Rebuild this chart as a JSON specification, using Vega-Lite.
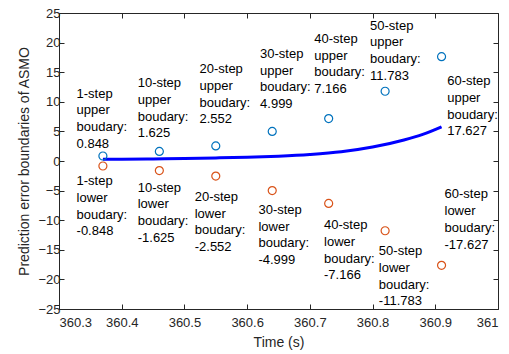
{
  "$schema": "https://vega.github.io/schema/vega-lite/v6.json",
  "width": 439,
  "height": 296,
  "autosize": {"type": "none"},
  "padding": {"left": 59, "top": 13, "right": 11, "bottom": 45},
  "background": "white",
  "config": {
    "view": {"stroke": null},
    "font": "Liberation Sans",
    "axis": {
      "grid": false,
      "domainColor": "#262626",
      "domainWidth": 1,
      "tickColor": "#262626",
      "tickWidth": 1,
      "tickSize": -5,
      "labelColor": "#262626",
      "labelFont": "Liberation Sans",
      "labelFontSize": 13,
      "titleFont": "Liberation Sans",
      "titleFontSize": 14,
      "titleFontWeight": "normal",
      "titleColor": "#262626"
    }
  },
  "resolve": {"axis": {"x": "independent", "y": "independent"}},
  "layer": [
    {
      "data": {"values": [
        {"t": 360.37, "v": 0.28},
        {"t": 360.40, "v": 0.30},
        {"t": 360.45, "v": 0.35},
        {"t": 360.50, "v": 0.42},
        {"t": 360.55, "v": 0.52},
        {"t": 360.60, "v": 0.64},
        {"t": 360.65, "v": 0.82},
        {"t": 360.70, "v": 1.10},
        {"t": 360.75, "v": 1.55},
        {"t": 360.80, "v": 2.35},
        {"t": 360.85, "v": 3.55},
        {"t": 360.88, "v": 4.50},
        {"t": 360.91, "v": 5.78}
      ]},
      "mark": {"type": "line", "color": "#0000FF", "strokeWidth": 3, "interpolate": "monotone"},
      "encoding": {
        "x": {"field": "t", "type": "quantitative",
              "scale": {"domain": [360.3, 361], "nice": false, "zero": false},
              "axis": {"orient": "bottom", "title": "Time (s)", "values": [360.3, 360.4, 360.5, 360.6, 360.7, 360.8, 360.9, 361], "labelPadding": 12, "titlePadding": 6, "labelExpr": "datum.value == 361 ? '361' : format(datum.value, '.1f')"}},
        "y": {"field": "v", "type": "quantitative",
              "scale": {"domain": [-25, 25], "nice": false, "zero": false},
              "axis": {"orient": "left", "title": "Prediction error boundaries of ASMO", "values": [-25, -20, -15, -10, -5, 0, 5, 10, 15, 20, 25], "labelPadding": 4, "titlePadding": 6}}
      }
    },
    {
      "data": {"values": [
        {"t": 360.37, "v": 0.848, "kind": "upper"},
        {"t": 360.46, "v": 1.625, "kind": "upper"},
        {"t": 360.55, "v": 2.552, "kind": "upper"},
        {"t": 360.64, "v": 4.999, "kind": "upper"},
        {"t": 360.73, "v": 7.166, "kind": "upper"},
        {"t": 360.82, "v": 11.783, "kind": "upper"},
        {"t": 360.91, "v": 17.627, "kind": "upper"},
        {"t": 360.37, "v": -0.848, "kind": "lower"},
        {"t": 360.46, "v": -1.625, "kind": "lower"},
        {"t": 360.55, "v": -2.552, "kind": "lower"},
        {"t": 360.64, "v": -4.999, "kind": "lower"},
        {"t": 360.73, "v": -7.166, "kind": "lower"},
        {"t": 360.82, "v": -11.783, "kind": "lower"},
        {"t": 360.91, "v": -17.627, "kind": "lower"}
      ]},
      "mark": {"type": "point", "shape": "circle", "filled": false, "size": 64, "strokeWidth": 1.2, "opacity": 1},
      "encoding": {
        "x": {"field": "t", "type": "quantitative",
              "scale": {"domain": [360.3, 361], "nice": false, "zero": false},
              "axis": {"orient": "top", "title": null, "labels": false, "values": [360.3, 360.4, 360.5, 360.6, 360.7, 360.8, 360.9, 361]}},
        "y": {"field": "v", "type": "quantitative",
              "scale": {"domain": [-25, 25], "nice": false, "zero": false},
              "axis": {"orient": "right", "title": null, "labels": false, "values": [-25, -20, -15, -10, -5, 0, 5, 10, 15, 20, 25]}},
        "color": {"field": "kind", "type": "nominal",
                  "scale": {"domain": ["upper", "lower"], "range": ["#0072BD", "#D95319"]},
                  "legend": null}
      }
    },
    {
      "data": {"values": [
        {"lx": 360.328, "ly": 7.15, "label": "1-step\nupper\nboudary:\n0.848"},
        {"lx": 360.4255, "ly": 8.9, "label": "10-step\nupper\nboudary:\n1.625"},
        {"lx": 360.524, "ly": 11.27, "label": "20-step\nupper\nboudary:\n2.552"},
        {"lx": 360.6206, "ly": 13.85, "label": "30-step\nupper\nboudary:\n4.999"},
        {"lx": 360.707, "ly": 16.39, "label": "40-step\nupper\nboudary:\n7.166"},
        {"lx": 360.796, "ly": 18.63, "label": "50-step\nupper\nboudary:\n11.783"},
        {"lx": 360.919, "ly": 9.26, "label": "60-step\nupper\nboudary:\n17.627"},
        {"lx": 360.328, "ly": -7.63, "label": "1-step\nlower\nboudary:\n-0.848"},
        {"lx": 360.4255, "ly": -8.75, "label": "10-step\nlower\nboudary:\n-1.625"},
        {"lx": 360.5164, "ly": -10.3, "label": "20-step\nlower\nboudary:\n-2.552"},
        {"lx": 360.618, "ly": -12.5, "label": "30-step\nlower\nboudary:\n-4.999"},
        {"lx": 360.7226, "ly": -15.08, "label": "40-step\nlower\nboudary:\n-7.166"},
        {"lx": 360.81, "ly": -19.48, "label": "50-step\nlower\nboudary:\n-11.783"},
        {"lx": 360.9147, "ly": -9.88, "label": "60-step\nlower\nboudary:\n-17.627"}
      ]},
      "mark": {"type": "text", "align": "left", "baseline": "middle", "dy": -25, "lineBreak": "\n", "lineHeight": 16.7, "fontSize": 13, "font": "Liberation Sans", "color": "#000000"},
      "encoding": {
        "x": {"field": "lx", "type": "quantitative", "scale": {"domain": [360.3, 361], "nice": false, "zero": false}, "axis": null},
        "y": {"field": "ly", "type": "quantitative", "scale": {"domain": [-25, 25], "nice": false, "zero": false}, "axis": null},
        "text": {"field": "label", "type": "nominal"}
      }
    }
  ]
}
